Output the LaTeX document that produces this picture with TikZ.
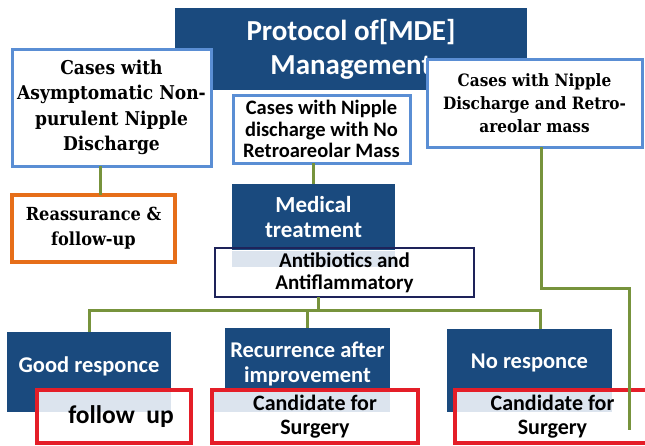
\documentclass[tikz,border=0pt]{standalone}
\usepackage{fontspec}
\newfontfamily\carl{Carlito}
\newfontfamily\dvs{DejaVu Serif Condensed}
\definecolor{dkblue}{RGB}{26,74,126}
\definecolor{ltblue}{RGB}{90,142,212}
\definecolor{grn}{RGB}{119,147,60}
\definecolor{orng}{RGB}{230,110,25}
\definecolor{rred}{RGB}{228,30,40}
\definecolor{navy}{RGB}{30,35,90}
\definecolor{band}{RGB}{220,228,238}
\newcommand\upby[2]{\raisebox{#1}[\height][\depth]{\begin{tabular}{@{}c@{}}#2\end{tabular}}}
\begin{document}
\begin{tikzpicture}[x=1pt,y=-1pt,
  box/.style={rectangle, inner sep=0pt, outer sep=0pt, align=center},
  bluebox/.style={box, fill=dkblue, text=white},
  wbox/.style={box, draw=ltblue, line width=3pt, fill=white},
  obox/.style={box, draw=orng, line width=3.5pt, fill=white},
  nbox/.style={box, draw=navy, line width=2.6pt},
  rbox/.style={box, draw=rred, line width=3.6pt},
  conn/.style={draw=grn, line width=3pt}]
\useasboundingbox (0,0) rectangle (645,445);
\clip (0,0) rectangle (645,445);

% title
\node[bluebox, minimum width=352pt, minimum height=82pt,
  font=\carl\bfseries\fontsize{29}{34}\selectfont] (title) at (351,49)
  {Protocol of[MDE]\\Management};

% top row
\node[wbox, minimum width=199pt, minimum height=117pt,
  font=\dvs\bfseries\fontsize{19}{25.5}\selectfont] (lbox) at (111.5,107.5)
  {Cases with\\Asymptomatic Non-\\purulent Nipple\\Discharge};
\node[wbox, minimum width=177pt, minimum height=68pt,
  font=\carl\bfseries\fontsize{20.5}{21.5}\selectfont] (mid) at (321.5,129)
  {Cases with Nipple\\discharge with No\\Retroareolar Mass};
\node[wbox, minimum width=215pt, minimum height=88pt,
  font=\dvs\bfseries\fontsize{17}{23}\selectfont] (rb) at (534.5,103)
  {Cases with Nipple\\Discharge and Retro-\\areolar mass};

% second row
\node[obox, minimum width=163pt, minimum height=67pt,
  font=\dvs\bfseries\fontsize{18}{25}\selectfont] (reas) at (93.5,228.5)
  {Reassurance \&\\follow-up};
\node[bluebox, minimum width=163pt, minimum height=66pt,
  font=\carl\bfseries\fontsize{23}{25}\selectfont] (med) at (313.5,217)
  {Medical\\treatment};
\fill[band] (232,251) rectangle (395,267);
\node[nbox, minimum width=259pt, minimum height=49pt,
  font=\carl\bfseries\fontsize{21}{22}\selectfont] (anti) at (344.5,272.5)
  {Antibiotics and\\Antiflammatory};

% bottom row
\node[bluebox, minimum width=164pt, minimum height=80pt,
  font=\carl\bfseries\fontsize{22.5}{25}\selectfont] (good) at (89,372)
  {\upby{5pt}{Good responce}};
\node[bluebox, minimum width=165pt, minimum height=84pt,
  font=\carl\bfseries\fontsize{22.5}{25}\selectfont] (rec) at (307.5,370)
  {\upby{5.5pt}{Recurrence after\\improvement}};
\node[bluebox, minimum width=165pt, minimum height=83pt,
  font=\carl\bfseries\fontsize{22.5}{25}\selectfont] (noresp) at (529.5,370.5)
  {\upby{7.5pt}{No responce}};
\fill[band] (37,390) rectangle (171,412);
\fill[band] (212,390) rectangle (390,412);
\fill[band] (455,390) rectangle (612,412);

\node[rbox, minimum width=154pt, minimum height=53pt,
  font=\carl\bfseries\fontsize{25.5}{28}\selectfont] (fup) at (114,416.5)
  {\hspace*{14pt}follow\ \ up};
\node[rbox, minimum width=206pt, minimum height=53pt,
  font=\carl\bfseries\fontsize{22}{24}\selectfont] (cand1) at (315,416.5)
  {Candidate for\\Surgery};
\node[rbox, minimum width=195pt, minimum height=53pt,
  font=\carl\bfseries\fontsize{22}{24}\selectfont] (cand2) at (552.5,416.5)
  {Candidate for\\Surgery};

% connectors
\coordinate (g1) at (100,0);
\draw[conn] (lbox.south -| g1) -- (reas.north -| g1);
\draw[conn] (mid.south -| med.north) -- (med.north);
\coordinate (bus) at (318,310);
\coordinate (d3) at (540,310);
\draw[conn] (anti.south -| bus) -- (bus);
\draw[conn] (good.north) |- (d3) -- (noresp.north -| d3);
\draw[conn] (rec.north) -- (rec.north |- bus);
\coordinate (r1) at (541,288);
\coordinate (rend) at (629,430);
\draw[conn] (rb.south -| r1) -- (r1) -| (rend);
\end{tikzpicture}
\end{document}
